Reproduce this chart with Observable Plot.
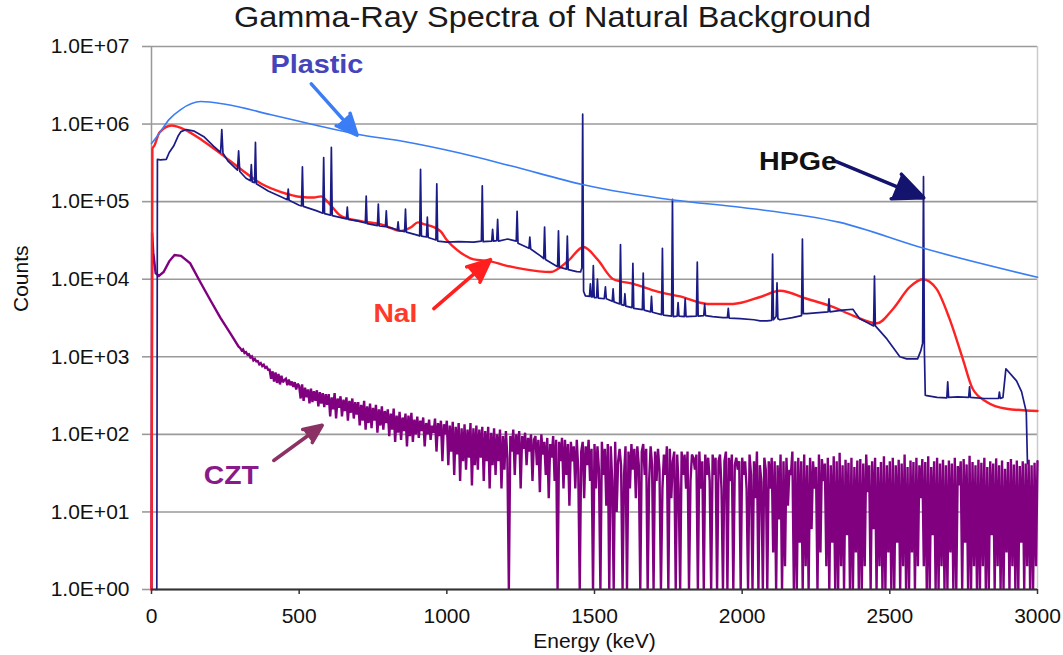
<!DOCTYPE html>
<html>
<head>
<meta charset="utf-8">
<script src="https://cdn.jsdelivr.net/npm/d3@7"></script>
<script src="https://cdn.jsdelivr.net/npm/@observablehq/plot@0.6"></script>
<style>
  html, body { margin: 0; padding: 0; background: #fff; }
  #chart svg { display: block; }
</style>
</head>
<body>
<div id="chart"></div>
<script>
// ---------------- DATA ----------------
const chartTitle = "Gamma-Ray Spectra of Natural Background";
const xAxisTitle = "Energy (keV)";
const yAxisTitle = "Counts";

const xTicks = [0, 500, 1000, 1500, 2000, 2500, 3000];
const xTickLabels = ["0", "500", "1000", "1500", "2000", "2500", "3000"];
const yTicks = [1, 10, 100, 1000, 10000, 100000, 1000000, 10000000];
const yTickLabels = ["1.0E+00", "1.0E+01", "1.0E+02", "1.0E+03", "1.0E+04", "1.0E+05", "1.0E+06", "1.0E+07"];

// [energy keV, counts]
const plasticPoints = [
  [0, 560000], [20, 700000], [60, 1150000], [100, 1550000], [167, 1950000], [250, 1800000],
  [405, 1320000], [550, 980000], [696, 740000], [850, 600000], [1047, 420000], [1216, 290000],
  [1463, 165000], [1767, 105000], [2000, 84000], [2331, 54000], [2615, 25000], [3000, 10600]
];

const naiPoints = [
  [0, 1], [3, 480000], [10, 530000], [27, 780000], [68, 960000], [112, 850000], [169, 630000],
  [236, 410000], [304, 260000], [372, 170000], [439, 133000], [507, 115000], [550, 113000],
  [574, 117000], [598, 98000], [642, 65000], [709, 56000], [777, 51000], [845, 42000],
  [880, 47000], [902, 54000], [925, 51000], [956, 47000], [980, 41000], [1000, 32000],
  [1047, 22000], [1091, 18000], [1148, 17000], [1200, 15000], [1260, 13500], [1351, 12400],
  [1409, 17000], [1463, 26000], [1510, 18000], [1564, 10000], [1632, 8700], [1713, 6900],
  [1790, 6000], [1882, 4800], [1969, 4800], [2061, 5900], [2128, 7100], [2219, 5600],
  [2307, 4400], [2375, 3400], [2456, 2700], [2510, 4100], [2567, 7900], [2611, 10000],
  [2658, 7500], [2702, 3100], [2747, 940], [2780, 390], [2827, 263], [2895, 214], [3000, 200]
];

const hpgePoints = [
  [15, 1], [18, 1], [20, 350000], [30, 345000], [50, 350000], [60, 430000], [75, 520000],
  [90, 700000], [100, 800000], [118, 850000], [145, 810000], [179, 680000], [210, 520000],
  [234, 430000], [238, 850000], [242, 420000], [260, 330000], [291, 255000], [295, 450000],
  [299, 245000], [320, 200000], [335, 186000], [338, 300000], [341, 180000], [349, 176000],
  [352, 580000], [355, 170000], [395, 137000], [440, 115000], [460, 106000], [463, 145000],
  [466, 104000], [500, 90000], [508, 88000], [511, 280000], [514, 87000], [560, 76000],
  [580, 71000], [583, 370000], [586, 70000], [606, 67000], [609, 500000], [612, 66000],
  [660, 60000], [663, 85000], [666, 59000], [700, 56000], [724, 53000], [727, 118000],
  [730, 52000], [765, 49000], [768, 93000], [771, 48500], [792, 47500], [795, 76000],
  [798, 47000], [812, 46000], [832, 43000], [835, 55000], [838, 42500], [857, 41000],
  [860, 80000], [863, 40500], [900, 37000], [908, 36000], [911, 260000], [914, 36000],
  [931, 35000], [934, 63000], [937, 34500], [963, 32000], [966, 170000], [969, 31000],
  [1000, 30000], [1040, 30500], [1091, 30000], [1117, 31000], [1120, 160000], [1123, 30500],
  [1152, 31000], [1155, 44000], [1158, 31000], [1169, 31500], [1172, 59000], [1175, 31000],
  [1206, 33000], [1235, 31000], [1238, 75000], [1241, 29000], [1278, 25000], [1281, 35000],
  [1284, 24500], [1317, 20000], [1328, 18500], [1331, 47000], [1334, 18000], [1375, 14500],
  [1378, 42000], [1381, 14300], [1405, 13500], [1408, 36000], [1411, 13300], [1440, 12500],
  [1453, 12400], [1457, 14000], [1460, 1340000], [1463, 7000], [1469, 6100], [1483, 6000],
  [1486, 8700], [1489, 5900], [1493, 5900], [1496, 15000], [1499, 5800], [1507, 5800],
  [1510, 10000], [1513, 5700], [1533, 5600], [1537, 8000], [1540, 5600], [1560, 5200],
  [1563, 7500], [1566, 5100], [1585, 4800], [1588, 28000], [1591, 4700], [1600, 4600],
  [1603, 6500], [1606, 4500], [1627, 4300], [1630, 16000], [1633, 4200], [1662, 4050],
  [1665, 12000], [1668, 4000], [1690, 3800], [1693, 6000], [1696, 3750], [1727, 3500],
  [1730, 25000], [1733, 3450], [1761, 3350], [1764, 107000], [1767, 3300], [1780, 3350],
  [1783, 5000], [1786, 3350], [1804, 3300], [1807, 5600], [1810, 3300], [1845, 3350],
  [1848, 16600], [1851, 3350], [1870, 3400], [1873, 4800], [1876, 3400], [1900, 3300],
  [1935, 3200], [1950, 3200], [1953, 4200], [1956, 3150], [1993, 3100], [2040, 3000],
  [2061, 2900], [2084, 2900], [2100, 2950], [2103, 21000], [2106, 3000], [2115, 3300],
  [2118, 9000], [2121, 3100], [2128, 3000], [2170, 3200], [2201, 3400], [2204, 33000],
  [2207, 3600], [2219, 3600], [2260, 3700], [2291, 3800], [2294, 5600], [2297, 3800],
  [2340, 4000], [2375, 4100], [2385, 3600], [2398, 3100], [2420, 2800], [2445, 2500],
  [2448, 11000], [2451, 2500], [2490, 1700], [2534, 1000], [2557, 940], [2594, 940],
  [2605, 1200], [2611, 1500], [2614, 210000], [2617, 1200], [2620, 320], [2625, 315],
  [2660, 300], [2693, 295], [2696, 475], [2699, 300], [2730, 305], [2767, 300], [2770, 410],
  [2773, 300], [2820, 290], [2868, 290], [2871, 350], [2874, 290], [2883, 300], [2893, 700],
  [2929, 490], [2946, 355], [2962, 195], [2966, 42]
];

// CZT: low-energy part as [energy, counts]
const cztHeadPoints = [
  [0, 1], [2, 40000], [6, 22000], [14, 12000], [25, 11000], [41, 12400], [60, 17000],
  [78, 20500], [100, 20000], [131, 16000], [165, 9200], [199, 5400], [233, 3200],
  [267, 2000], [295, 1350]
];
// CZT: channel counts from 300 keV in 5 keV channels (bins read as empty sit on the 1.0E+00 axis)
const cztTailStartKeV = 300;
const cztTailChannelKeV = 5;
const cztTailCounts = [
  1300,1210,1250,1120,1150,1060,1080,980,1010,900,940,870,880,800,830,760,790,720,740,680,
  680,520,650,480,630,460,600,440,570,470,500,520,430,510,430,480,410,470,380,450,
  420,290,440,270,400,300,380,250,390,260,360,270,370,230,350,250,340,225,330,240,
  330,170,300,210,340,160,290,220,310,170,280,200,300,150,270,190,290,160,260,180,
  260,130,240,150,270,115,230,140,250,120,220,150,240,105,210,130,230,115,200,140,
  210,95,185,115,215,80,175,105,195,85,165,110,185,70,175,95,190,80,155,100,
  170,90,150,110,165,70,140,100,155,85,130,105,160,60,140,95,150,45,135,100,
  150,40,130,60,145,30,125,55,140,25,120,45,135,35,115,50,140,22,120,40,
  130,35,115,50,125,25,110,45,125,20,105,40,120,30,100,45,115,20,95,35,
  110,50,1,95,60,115,30,100,55,110,20,95,65,105,40,90,60,100,25,85,
  95,40,85,18,100,55,80,30,90,15,75,50,95,25,85,1,80,45,90,20,
  85,30,75,12,80,45,70,20,85,35,1,60,80,15,70,40,85,25,65,1,
  75,20,70,35,1,80,30,65,12,75,1,70,25,1,80,10,45,65,40,1,
  30,70,1,60,20,75,35,65,15,70,40,1,60,75,30,65,1,25,70,40,
  1,60,25,65,35,1,20,55,30,70,1,65,15,45,60,1,55,20,1,60,
  30,55,20,60,1,25,55,50,35,55,1,60,20,45,1,55,30,50,25,1,
  55,30,50,1,45,55,20,1,45,60,1,50,25,55,1,40,50,35,45,1,
  50,30,45,20,1,55,30,1,45,15,60,1,40,25,1,50,35,1,45,20,
  50,3,45,1,40,8,55,1,45,2,50,12,35,30,60,1,45,1,50,4,
  45,1,55,2,40,1,50,6,45,20,38,1,55,3,48,25,42,2,50,1,
  40,4,52,1,45,1,58,2,40,1,47,5,43,1,50,1,38,3,46,1,
  48,1,42,2,55,18,40,1,45,6,50,1,38,2,44,1,52,1,40,3,
  45,1,50,1,40,4,47,1,42,2,55,1,38,1,46,3,44,1,50,2,
  40,15,48,2,44,1,52,1,38,5,45,1,50,1,42,2,47,1,40,1,
  46,3,42,1,50,1,39,22,45,1,48,4,41,1,53,1,44,2,40,1,
  47,1,43,2,50,1,38,1,45,5,42,1,49,2,40,1,46,1,36,3,
  44,1,48,2,41,1,46,1,39,4,45,1,42,2,47,1,40,1,43,2,
  45
];

// Annotations (label anchor and arrow ends, in data units)
const seriesLabels = [
  { name: "Plastic", E: 560, C: 5.88e6 },
  { name: "HPGe",    E: 2189, C: 3.26e5 },
  { name: "NaI",     E: 826, C: 3600 },
  { name: "CZT",     E: 270, C: 29.7 }
];
const seriesArrows = [
  { name: "Plastic", E1: 541, C1: 3.3e6, E2: 696, C2: 7.2e5 },
  { name: "HPGe",    E1: 2309, C1: 3.4e5, E2: 2615, C2: 1.12e5 },
  { name: "NaI",     E1: 956, C1: 4180, E2: 1148, C2: 17900 },
  { name: "CZT",     E1: 414, C1: 46, E2: 578, C2: 131 }
];

// ---------------- STYLE ----------------
const FONT = "'Liberation Sans', Arial, Helvetica, sans-serif";
const lineColor = { Plastic: "#3a7df5", HPGe: "#1b1b86", NaI: "#ff2222", CZT: "#800080" };
const textColor = { Plastic: "#4444bb", HPGe: "#111111", NaI: "#ff3a2a", CZT: "#8a1a8a" };
const arrowColor = { Plastic: "#3a7df5", HPGe: "#14146e", NaI: "#ff1f1f", CZT: "#8b3163" };
const textWidth = { Plastic: 93, HPGe: 78, NaI: 44, CZT: 55 };
textWidth[chartTitle] = 637;

// ---------------- BUILD ----------------
const rows = pts => pts.map(([E, C]) => ({ E, C }));
const plastic = rows(plasticPoints);
const nai = rows(naiPoints);
const hpge = rows(hpgePoints);
const czt = rows(cztHeadPoints).concat(
  cztTailCounts.map((C, i) => ({ E: cztTailStartKeV + i * cztTailChannelKeV, C }))
);

const plot = Plot.plot({
  width: 1063,
  height: 655,
  marginLeft: 151,
  marginRight: 26,
  marginTop: 46,
  marginBottom: 66,
  style: { fontFamily: FONT, fontSize: "21px", color: "#111", background: "#fff", overflow: "visible" },
  x: { domain: [0, 3000] },
  y: { type: "log", domain: [1, 1e7] },
  marks: [
    Plot.ruleY(yTicks, { stroke: "#9a9a9a", strokeWidth: 1.6 }),
    Plot.ruleX([3000], { stroke: "#cccccc", strokeWidth: 1.5 }),
    Plot.ruleX([0], { stroke: "#999999", strokeWidth: 1.5 }),
    Plot.axisY(yTicks, {
      tickFormat: d => yTickLabels[yTicks.indexOf(d)],
      tickSize: 9, tickPadding: 13, stroke: "#9a9a9a", strokeWidth: 1.6,
      fill: "#111", fontSize: 21, label: null
    }),
    Plot.axisX(xTicks, {
      tickFormat: d => xTickLabels[xTicks.indexOf(d)],
      tickSize: 5, tickPadding: 14, stroke: "#333", strokeWidth: 1.5,
      fill: "#111", fontSize: 21, label: null
    }),
    Plot.line(czt, { x: "E", y: "C", stroke: lineColor.CZT, strokeWidth: 2.4, strokeLinejoin: "miter", strokeMiterlimit: 2 }),
    Plot.line(nai, { x: "E", y: "C", stroke: lineColor.NaI, strokeWidth: 2.4, curve: "monotone-x" }),
    Plot.line(hpge, { x: "E", y: "C", stroke: lineColor.HPGe, strokeWidth: 1.7 }),
    Plot.line(plastic, { x: "E", y: "C", stroke: lineColor.Plastic, strokeWidth: 1.6, curve: "monotone-x" }),
    Plot.ruleY([1], { stroke: "#333", strokeWidth: 2 }),
    Plot.arrow(seriesArrows, {
      x1: "E1", y1: "C1", x2: "E2", y2: "C2",
      stroke: d => arrowColor[d.name], fill: d => arrowColor[d.name],
      strokeWidth: 3.5, headLength: 17, headAngle: 48, strokeLinejoin: "miter"
    }),
    Plot.text(seriesLabels, {
      x: "E", y: "C", text: "name",
      fill: d => textColor[d.name], fontWeight: "bold", fontSize: 26,
      textAnchor: "middle", lineAnchor: "middle"
    }),
    Plot.text([chartTitle], {
      frameAnchor: "top", dx: -42, dy: -28.5, fontSize: 29, fill: "#1a1a1a",
      lineAnchor: "middle"
    }),
    Plot.text([xAxisTitle], {
      frameAnchor: "bottom", dy: 52, fontSize: 21, fill: "#111", lineAnchor: "middle"
    }),
    Plot.text([yAxisTitle], {
      frameAnchor: "left", dx: -130, dy: -6, rotate: -90, fontSize: 21, fill: "#111", lineAnchor: "middle"
    })
  ]
});

// stretch label/title glyphs to the widths seen in the reference
plot.querySelectorAll("text").forEach(t => {
  const w = textWidth[t.textContent];
  if (w) {
    t.setAttribute("textLength", w);
    t.setAttribute("lengthAdjust", "spacingAndGlyphs");
  }
});

document.getElementById("chart").appendChild(plot);
</script>
</body>
</html>
